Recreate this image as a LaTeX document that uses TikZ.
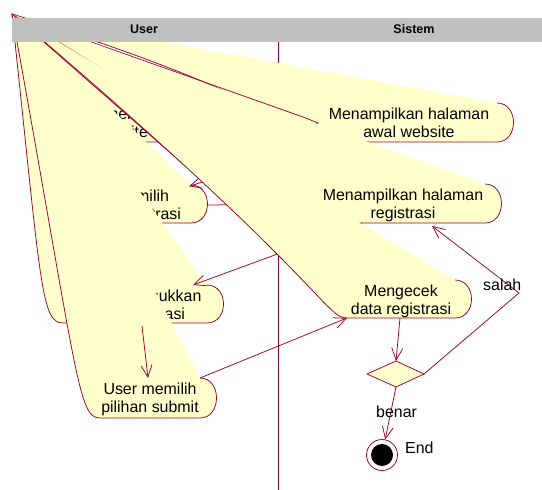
\documentclass[tikz,border=0pt]{standalone}
\usepackage{fontspec}
\setmainfont{Liberation Sans}
\usetikzlibrary{arrows.meta,calc}
\definecolor{rose}{RGB}{153,0,51}
\definecolor{actyellow}{RGB}{255,255,204}
\definecolor{lanegray}{RGB}{192,192,192}

% Activity whose outline path starts from the origin point (O):
% #1 name, #2 left x, #3 right x, #4 top y, #5 bottom y, #6/#7 text lines
\newcommand\glitchact[7]{%
  \coordinate (#1-tl) at (#2,#4);
  \coordinate (#1-tr) at (#3,#4);
  \coordinate (#1-br) at (#3,#5);
  \coordinate (#1-bl) at (#2,#5);
  \fill[actfill] (O) -- (#1-tr)
    .. controls ($(#1-tr)+(22,0)$) and ($(#1-br)+(22,0)$) .. (#1-br)
    -- (#1-bl)
    .. controls ($(#1-bl)+(-22,0)$) and ($(#1-tl)+(-22,0)$) .. (O) -- cycle;
  \draw[actline] (#1-tr)
    .. controls ($(#1-tr)+(22,0)$) and ($(#1-br)+(22,0)$) .. (#1-br)
    -- (#1-bl)
    .. controls ($(#1-bl)+(-22,0)$) and ($(#1-tl)+(-22,0)$) .. (O);
  \node[acttext] (#1-a) at ({(#2+#3)/2},{#4+16.5}) {#6};
  \node[acttext] (#1-b) at ({(#2+#3)/2},{#4+34.5}) {#7};
}

\begin{document}
\begin{tikzpicture}[x=1bp,y=-1bp,
  actfill/.style={fill=actyellow},
  actline/.style={draw=rose,line width=0.75bp},
  acttext/.style={font=\fontsize{16}{18}\selectfont,inner sep=0pt,anchor=base},
  flow/.style={draw=rose,line width=0.75bp,-{Straight Barb[length=12bp,width=11bp]}},
  plainflow/.style={draw=rose,line width=0.75bp},
  headtext/.style={font=\bfseries\fontsize{12.6}{14}\selectfont,inner sep=0pt,anchor=base},
  flowlabel/.style={font=\fontsize{16}{18}\selectfont,inner sep=0pt,anchor=base west}
]
\useasboundingbox (0,0) rectangle (542,490);
\fill[white] (0,0) rectangle (542,490);
\coordinate (O) at (12,14);

% swimlane divider
\coordinate (lane-top) at (278,42);
\coordinate (lane-bot) at (278,490);
\draw[actline] (lane-top) -- (lane-bot);

% activities and transitions, in drawing order
\glitchact{U1}{61}{181}{103}{142}{User membuka}{website}
\glitchact{A}{321}{497}{103}{142}{Menampilkan halaman}{awal website}

\coordinate (U1-out) at (195,123);
\coordinate (A-in) at (318,123);
\draw[plainflow] (U1-out) -- (A-in);
\draw[plainflow] (O) -- ($(A-in)+(-15,-6)$) -- (A-in) -- ($(A-in)+(-14,6)$);

\glitchact{U2}{54}{191}{185}{223}{User memilih}{tombol registrasi}

\coordinate (A-out) at (325,142);
\coordinate (U2-in) at (190,186);
\draw[plainflow] (A-out) -- (U2-in);
\draw[plainflow] (O) -- ($(U2-in)+(9,-8)$) -- (U2-in) -- ($(U2-in)+(12,2)$);

\glitchact{B}{321}{485}{184}{223}{Menampilkan halaman}{registrasi}

\coordinate (U2-out) at (207,205);
\coordinate (B-in) at (304,204);
\draw[flow] (U2-out) -- (B-in);

\glitchact{U3}{63}{207}{285}{323}{User memasukkan}{data registrasi}

\coordinate (B-out) at (362,223);
\coordinate (U3-in) at (193,285);
\draw[flow] (B-out) -- (U3-in);

\glitchact{D}{347}{455}{280}{318}{Mengecek}{data registrasi}
\glitchact{E}{100}{200}{378}{418}{User memilih}{pilihan submit}

\coordinate (U3-out) at (142,326);
\coordinate (E-in) at (148,378);
\draw[flow] (U3-out) -- (E-in);
\draw[flow] (E-tr) -- (D-bl);

% decision
\coordinate (dec-n) at (396,361);
\coordinate (dec-e) at (424,374);
\coordinate (dec-s) at (396,387);
\coordinate (dec-w) at (367,374);
\filldraw[fill=actyellow,draw=rose,line width=0.75bp] (dec-n) -- (dec-e) -- (dec-s) -- (dec-w) -- cycle;

\coordinate (D-out) at (400,318);
\draw[flow] (D-out) -- (dec-n);

% end state
\node[circle,draw=rose,line width=0.75bp,fill=white,minimum size=31bp,inner sep=0pt] (end) at (382,455) {};
\node[circle,fill=black,minimum size=22bp,inner sep=0pt] (endcore) at (end.center) {};
\node[flowlabel] (endlabel) at (405,453) {End};

% guarded transitions
\coordinate (salah-bend) at (519,293);
\coordinate (B-ret) at (432,226);
\draw[flow] (dec-e) -- (salah-bend) -- (B-ret);
\node[flowlabel] (salah) at (483,290) {salah};

\draw[flow] (dec-s) -- (end);
\node[flowlabel] (benar) at (376,417) {benar};

% swimlane headers
\fill[lanegray] (12,18) rectangle (542,42);
\node[headtext] (user-head) at (144,34) {User};
\node[headtext] (sistem-head) at (414,34) {Sistem};
\end{tikzpicture}
\end{document}
